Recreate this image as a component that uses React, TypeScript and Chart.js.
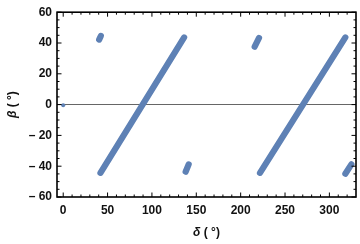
import React, { useEffect, useRef } from "react";
import { Chart, registerables } from "chart.js";

Chart.register(...registerables);

// Dense bands of solutions (start and end of each band, in degrees)
const bandOneDelta = [42, 136.3];
const bandOneBeta = [-44.3, 43.6];
const bandTwoDelta = [221.8, 318];
const bandTwoBeta = [-44.3, 43.6];

// Small isolated clusters
const clusterADelta = [40.5, 42.4];
const clusterABeta = [42.2, 44.6];
const clusterBDelta = [138, 141.4];
const clusterBBeta = [-43.6, -38.8];
const clusterCDelta = [215.8, 220.7];
const clusterCBeta = [37.6, 43.3];
const clusterDDelta = [318, 324.8];
const clusterDBeta = [-44.9, -38.8];

// Lone point near the origin
const loneDelta = [0];
const loneBeta = [-0.4];

// Axes
const xTicks = [0, 50, 100, 150, 200, 250, 300];
const xMinorTicks = [0, 10, 20, 30, 40, 50, 60, 70, 80, 90, 100, 110, 120, 130, 140, 150, 160, 170, 180, 190, 200, 210, 220, 230, 240, 250, 260, 270, 280, 290, 300, 310, 320];
const yTicks = [-60, -40, -20, 0, 20, 40, 60];
const yMinorTicks = [-55, -50, -45, -35, -30, -25, -15, -10, -5, 5, 10, 15, 25, 30, 35, 45, 50, 55];
const xRange = [-7, 330];
const yRange = [-60, 60];
const xTitle = ["δ", " ( °)"];
const yTitle = ["β", " ( °)"];

const COLOR = "#5e81b5";
const FONT = "'Liberation Sans', Arial, sans-serif";

const pts = (xs: number[], ys: number[]) => xs.map((x, i) => ({ x, y: ys[i] }));

const drawMixed = (ctx: any, parts: string[], cx: number, cy: number) => {
  const fonts = [`italic bold 12px ${FONT}`, `bold 12px ${FONT}`];
  const widths = parts.map((p, i) => {
    ctx.font = fonts[i];
    return ctx.measureText(p).width;
  });
  let x = cx - (widths[0] + widths[1]) / 2;
  ctx.textBaseline = "middle";
  ctx.textAlign = "left";
  ctx.fillStyle = "#111";
  parts.forEach((p, i) => {
    ctx.font = fonts[i];
    ctx.fillText(p, x, cy);
    x += widths[i];
  });
};

const framePlugin = {
  id: "frame",
  afterDraw(chart: any) {
    const { ctx, chartArea } = chart;
    const xs = chart.scales.x;
    const ys = chart.scales.y;
    const { left, right, top, bottom } = chartArea;
    ctx.save();
    ctx.strokeStyle = "#000";
    ctx.lineWidth = 1;
    const major = 4.5;
    const minor = 2.5;
    ctx.beginPath();
    const drawX = (v: number, len: number) => {
      const p = xs.getPixelForValue(v);
      ctx.moveTo(p, bottom);
      ctx.lineTo(p, bottom - len);
      ctx.moveTo(p, top);
      ctx.lineTo(p, top + len);
    };
    const drawY = (v: number, len: number) => {
      const p = ys.getPixelForValue(v);
      ctx.moveTo(left, p);
      ctx.lineTo(left + len, p);
      ctx.moveTo(right, p);
      ctx.lineTo(right - len, p);
    };
    xMinorTicks.forEach((v) => drawX(v, xTicks.includes(v) ? major : minor));
    yTicks.forEach((v) => drawY(v, major));
    yMinorTicks.forEach((v) => drawY(v, minor));
    ctx.stroke();
    ctx.lineWidth = 1.6;
    ctx.strokeRect(left, top, right - left, bottom - top);

    // axis titles with an italic Greek letter
    drawMixed(ctx, xTitle, (left + right) / 2, 233);
    ctx.save();
    ctx.translate(13, (top + bottom) / 2);
    ctx.rotate(-Math.PI / 2);
    drawMixed(ctx, yTitle, 0, 0);
    ctx.restore();
    ctx.restore();
  },
};

export default function App() {
  const ref = useRef<HTMLCanvasElement | null>(null);

  useEffect(() => {
    if (!ref.current) return;
    const segment = (xs: number[], ys: number[]) => ({
      data: pts(xs, ys),
      showLine: true,
      borderColor: COLOR,
      backgroundColor: COLOR,
      borderWidth: 6.2,
      borderCapStyle: "round" as const,
      pointRadius: 0,
    });
    const chart = new Chart(ref.current, {
      type: "scatter",
      data: {
        datasets: [
          segment(bandOneDelta, bandOneBeta),
          segment(bandTwoDelta, bandTwoBeta),
          segment(clusterADelta, clusterABeta),
          segment(clusterBDelta, clusterBBeta),
          segment(clusterCDelta, clusterCBeta),
          segment(clusterDDelta, clusterDBeta),
          {
            data: pts(loneDelta, loneBeta),
            pointRadius: 2,
            borderWidth: 0,
            backgroundColor: COLOR,
          },
        ],
      },
      plugins: [framePlugin],
      options: {
        animation: false,
        responsive: false,
        maintainAspectRatio: false,
        layout: { padding: { top: 10, right: 3, left: 0, bottom: 0 } },
        plugins: { legend: { display: false }, tooltip: { enabled: false } },
        scales: {
          x: {
            type: "linear",
            min: xRange[0],
            max: xRange[1],
            afterBuildTicks: (s: any) => {
              s.ticks = xTicks.map((v) => ({ value: v }));
            },
            afterFit: (s: any) => {
              s.height = 47;
            },
            grid: { display: false, drawTicks: false },
            border: { display: false },
            ticks: {
              padding: 6,
              color: "#111",
              font: { family: FONT, size: 12, weight: "bold" },
              callback: (v: any) => String(v),
            },
            title: { display: false },
          },
          y: {
            type: "linear",
            min: yRange[0],
            max: yRange[1],
            afterBuildTicks: (s: any) => {
              s.ticks = yTicks.map((v) => ({ value: v }));
            },
            afterFit: (s: any) => {
              s.width = 57;
            },
            grid: {
              drawTicks: false,
              lineWidth: 1,
              color: (c: any) => (c.tick && c.tick.value === 0 ? "#666" : "rgba(0,0,0,0)"),
            },
            border: { display: false },
            ticks: {
              padding: 5,
              color: "#111",
              font: { family: FONT, size: 12, weight: "bold" },
              callback: (v: any) => (v < 0 ? "– " + Math.abs(v) : String(v)),
            },
            title: { display: false },
          },
        },
      },
    });
    return () => chart.destroy();
  }, []);

  return (
    <div style={{ position: "fixed", left: 0, top: 0, width: 360, height: 244, background: "#fff" }}>
      <canvas ref={ref} width={360} height={244} style={{ display: "block", width: 360, height: 244 }} />
    </div>
  );
}
